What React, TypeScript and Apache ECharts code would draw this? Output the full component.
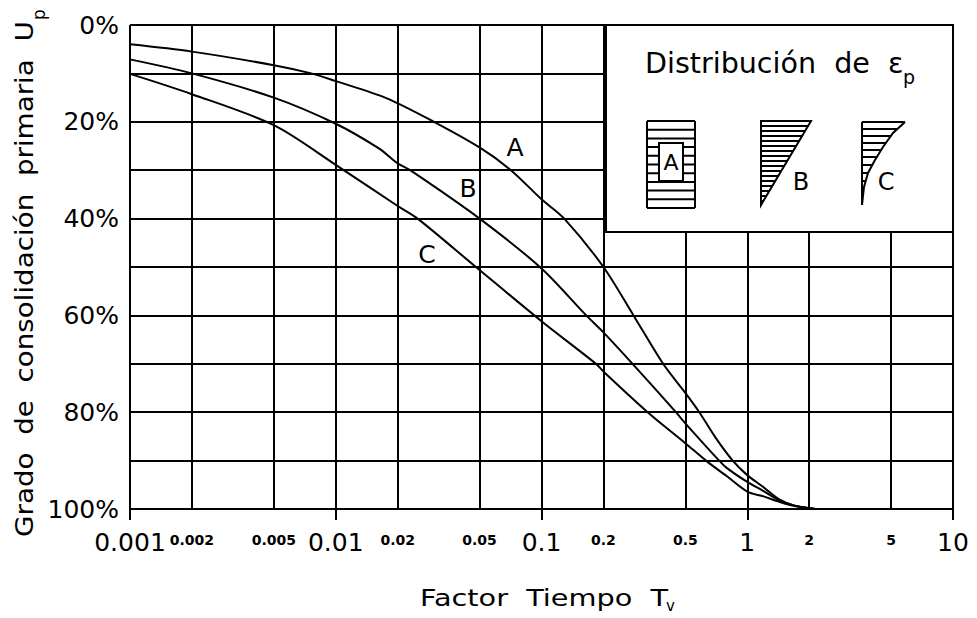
import { useEffect, useRef } from 'react';
import * as echarts from 'echarts';

const FONT = 'DejaVu Sans';

const MAJOR_TICKS = [0.001, 0.01, 0.1, 1, 10];
const MAJOR_LABELS = ['0.001', '0.01', '0.1', '1', '10'];
const MINOR_TICKS = [0.002, 0.005, 0.02, 0.05, 0.2, 0.5, 2, 5];
const MINOR_LABELS = ['0.002', '0.005', '0.02', '0.05', '0.2', '0.5', '2', '5'];
const Y_LABEL_STEP = 20;
const Y_GRID_STEP = 10;

const TV_A = [0.001, 0.002, 0.005, 0.0076, 0.01, 0.0176, 0.03, 0.05, 0.071, 0.1, 0.129, 0.2, 0.28, 0.39, 0.5, 0.585, 0.7, 0.85, 1.0, 1.2, 1.43, 1.7, 2.15];
const UP_A = [4.0, 5.5, 8.3, 10, 11.6, 15.1, 20, 25.3, 30, 36, 40, 50, 60, 70, 76, 80, 85.2, 90, 93, 95.5, 98, 99.3, 100];

const TV_B = [0.001, 0.002, 0.005, 0.01, 0.0162, 0.02, 0.023, 0.05, 0.1, 0.165, 0.2, 0.277, 0.45, 0.5, 0.73, 0.8, 1.0, 1.2, 1.43, 1.7, 2.15];
const UP_B = [7.1, 10, 15, 20.4, 25.5, 28.6, 30, 40, 50.3, 60, 63.5, 70, 80, 82.3, 90, 91.6, 94.4, 96.3, 98.2, 99.3, 100];

const TV_C = [0.001, 0.002, 0.005, 0.01, 0.02, 0.025, 0.048, 0.1, 0.184, 0.2, 0.328, 0.5, 0.63, 0.8, 1.0, 1.2, 1.43, 1.7, 2.15];
const UP_C = [10.1, 14.3, 20.7, 28.9, 37.4, 40, 50, 61.2, 70, 71.6, 80, 86.4, 90, 93.3, 96.4, 97.4, 98.5, 99.4, 100];

const lookup = (v: number, ticks: number[], labels: string[]) => {
  for (let i = 0; i < ticks.length; i++) {
    if (Math.abs(Math.log10(ticks[i]) - v) < 1e-6) return labels[i];
  }
  return '';
};

const toXY = (t: number[], u: number[]) => t.map((x, i) => [Math.log10(x), u[i]]);

function buildGraphic() {
  const g: any[] = [];
  const ls = { stroke: '#000', lineWidth: 2 };
  const Z = 20;
  // legend box
  g.push({ type: 'rect', z: Z, shape: { x: 606, y: 25, width: 347, height: 207 }, style: { fill: '#fff', stroke: '#000', lineWidth: 2 } });
  g.push({ type: 'text', z: Z + 1, x: 645, y: 64, scaleX: 1.02, style: { text: 'Distribución  de  ε', fontSize: 28, fontFamily: FONT, fill: '#000', align: 'left', verticalAlign: 'middle' } });
  g.push({ type: 'text', z: Z + 1, x: 903, y: 77, style: { text: 'p', fontSize: 19, fontFamily: FONT, fill: '#000', align: 'left', verticalAlign: 'middle' } });

  // A diagram: uniform
  const ax0 = 647, ax1 = 695, ay0 = 121, ay1 = 208;
  for (let k = 0; k <= 10; k++) {
    const y = ay0 + (k * (ay1 - ay0)) / 10;
    g.push({ type: 'line', z: Z + 1, shape: { x1: ax0, y1: y, x2: ax1, y2: y }, style: ls });
  }
  g.push({ type: 'line', z: Z + 1, shape: { x1: ax0, y1: ay0, x2: ax0, y2: ay1 }, style: ls });
  g.push({ type: 'line', z: Z + 1, shape: { x1: ax1, y1: ay0, x2: ax1, y2: ay1 }, style: ls });
  g.push({ type: 'rect', z: Z + 2, shape: { x: 659, y: 143, width: 24, height: 38 }, style: { fill: '#fff', stroke: '#000', lineWidth: 2 } });
  g.push({ type: 'text', z: Z + 3, x: 671, y: 162, style: { text: 'A', fontSize: 22, fontFamily: FONT, fill: '#000', align: 'center', verticalAlign: 'middle' } });

  // B diagram: triangle
  const bx0 = 761, bx1 = 811, by0 = 121, by1 = 205;
  g.push({ type: 'polygon', z: Z + 1, shape: { points: [[bx0, by0], [bx1, by0], [bx0, by1]] }, style: { fill: 'none', stroke: '#000', lineWidth: 2 } });
  for (let y = by0 + 5; y < by1 - 2; y += 5) {
    const x2 = bx1 - ((bx1 - bx0) * (y - by0)) / (by1 - by0);
    g.push({ type: 'line', z: Z + 1, shape: { x1: bx0, y1: y, x2, y2: y }, style: ls });
  }
  g.push({ type: 'text', z: Z + 1, x: 801, y: 182, style: { text: 'B', fontSize: 24, fontFamily: FONT, fill: '#000', align: 'center', verticalAlign: 'middle' } });

  // C diagram: curved
  const cPts = [[905, 122], [893, 133], [883, 147], [875, 160], [868, 173], [864, 187], [862, 205]];
  const curveX = (y: number) => {
    for (let i = 0; i < cPts.length - 1; i++) {
      const [xa, ya] = cPts[i];
      const [xb, yb] = cPts[i + 1];
      if (y >= ya && y <= yb) return xa + ((xb - xa) * (y - ya)) / (yb - ya);
    }
    return 862;
  };
  g.push({ type: 'polyline', z: Z + 1, shape: { points: cPts }, style: { fill: 'none', stroke: '#000', lineWidth: 2 } });
  g.push({ type: 'line', z: Z + 1, shape: { x1: 862, y1: 122, x2: 862, y2: 205 }, style: ls });
  g.push({ type: 'line', z: Z + 1, shape: { x1: 862, y1: 122, x2: 905, y2: 122 }, style: ls });
  for (const y of [129, 136, 143, 150, 157, 165, 173, 181, 189, 197]) {
    g.push({ type: 'line', z: Z + 1, shape: { x1: 862, y1: y, x2: curveX(y), y2: y }, style: ls });
  }
  g.push({ type: 'text', z: Z + 1, x: 886, y: 182, style: { text: 'C', fontSize: 24, fontFamily: FONT, fill: '#000', align: 'center', verticalAlign: 'middle' } });

  // curve labels
  const lab = (t: string, x: number, y: number) => ({ type: 'text', z: Z, x, y, style: { text: t, fontSize: 25, fontFamily: FONT, fill: '#000', align: 'center', verticalAlign: 'middle' } });
  g.push(lab('A', 515, 147));
  g.push(lab('B', 468, 188));
  g.push(lab('C', 427, 254));

  // axis titles
  g.push({ type: 'text', z: Z, x: 420, y: 598, scaleX: 1.25, style: { text: 'Factor  Tiempo  T', fontSize: 23, fontFamily: FONT, fill: '#000', align: 'left', verticalAlign: 'middle' } });
  g.push({ type: 'text', z: Z, x: 666, y: 606, style: { text: 'v', fontSize: 15, fontFamily: FONT, fill: '#000', align: 'left', verticalAlign: 'middle' } });
  g.push({ type: 'text', z: Z, x: 24, y: 537, rotation: Math.PI / 2, scaleX: 1.11, style: { text: 'Grado  de  consolidación  primaria  U', fontSize: 25, fontFamily: FONT, fill: '#000', align: 'left', verticalAlign: 'middle' } });
  g.push({ type: 'text', z: Z, x: 39, y: 20, rotation: Math.PI / 2, style: { text: 'p', fontSize: 17, fontFamily: FONT, fill: '#000', align: 'left', verticalAlign: 'middle' } });
  return g;
}

export default function App() {
  const ref = useRef<HTMLDivElement>(null);
  useEffect(() => {
    if (!ref.current) return;
    const chart = echarts.init(ref.current, null, { renderer: 'svg' });
    const black = { color: '#000', width: 2 };
    const minorVals = MINOR_TICKS.map((t) => Math.log10(t));
    const lineSeries = (name: string, t: number[], u: number[]) => ({
      name,
      type: 'line',
      xAxisIndex: 0,
      yAxisIndex: 0,
      data: toXY(t, u),
      showSymbol: false,
      symbol: 'none',
      smooth: 0.3,
      lineStyle: { color: '#000', width: 2 },
      itemStyle: { color: '#000' },
      z: 5,
    });
    chart.setOption({
      animation: false,
      backgroundColor: '#fff',
      textStyle: { fontFamily: FONT, color: '#000' },
      grid: { left: 130, top: 25, width: 823, height: 484, containLabel: false, outerBoundsMode: 'none' },
      xAxis: [
        {
          type: 'value',
          min: Math.log10(MAJOR_TICKS[0]),
          max: Math.log10(MAJOR_TICKS[MAJOR_TICKS.length - 1]),
          interval: 1,
          position: 'bottom',
          axisLine: { show: true, onZero: false, lineStyle: black },
          axisTick: { show: true, length: 11, lineStyle: black },
          axisLabel: { margin: 21, fontSize: 25, color: '#000', fontFamily: FONT, formatter: (v: number) => lookup(v, MAJOR_TICKS, MAJOR_LABELS) },
          splitLine: { show: true, lineStyle: black },
        },
        {
          type: 'value',
          min: Math.log10(MAJOR_TICKS[0]),
          max: Math.log10(MAJOR_TICKS[MAJOR_TICKS.length - 1]),
          position: 'bottom',
          axisLine: { show: false },
          axisTick: { show: false, customValues: minorVals },
          axisLabel: { customValues: minorVals, margin: 24, fontSize: 14, fontWeight: 'bold', color: '#000', fontFamily: FONT, formatter: (v: number) => lookup(v, MINOR_TICKS, MINOR_LABELS) },
          splitLine: { show: true, lineStyle: black },
        },
      ],
      yAxis: [
        {
          type: 'value',
          inverse: true,
          min: 0,
          max: 100,
          interval: Y_GRID_STEP,
          position: 'left',
          axisLine: { show: true, lineStyle: black },
          axisTick: { show: false },
          axisLabel: { show: false },
          splitLine: { show: true, lineStyle: black },
        },
        {
          type: 'value',
          inverse: true,
          min: 0,
          max: 100,
          interval: Y_LABEL_STEP,
          position: 'left',
          axisLine: { show: false },
          axisTick: { show: true, length: 4, lineStyle: black },
          axisLabel: { margin: 11, fontSize: 25, color: '#000', fontFamily: FONT, formatter: '{value}%' },
          splitLine: { show: false },
        },
      ],
      series: [lineSeries('A', TV_A, UP_A), lineSeries('B', TV_B, UP_B), lineSeries('C', TV_C, UP_C)],
      graphic: buildGraphic(),
    });
    return () => chart.dispose();
  }, []);
  return <div ref={ref} style={{ position: 'absolute', left: 0, top: 0, width: 977, height: 618 }} />;
}
